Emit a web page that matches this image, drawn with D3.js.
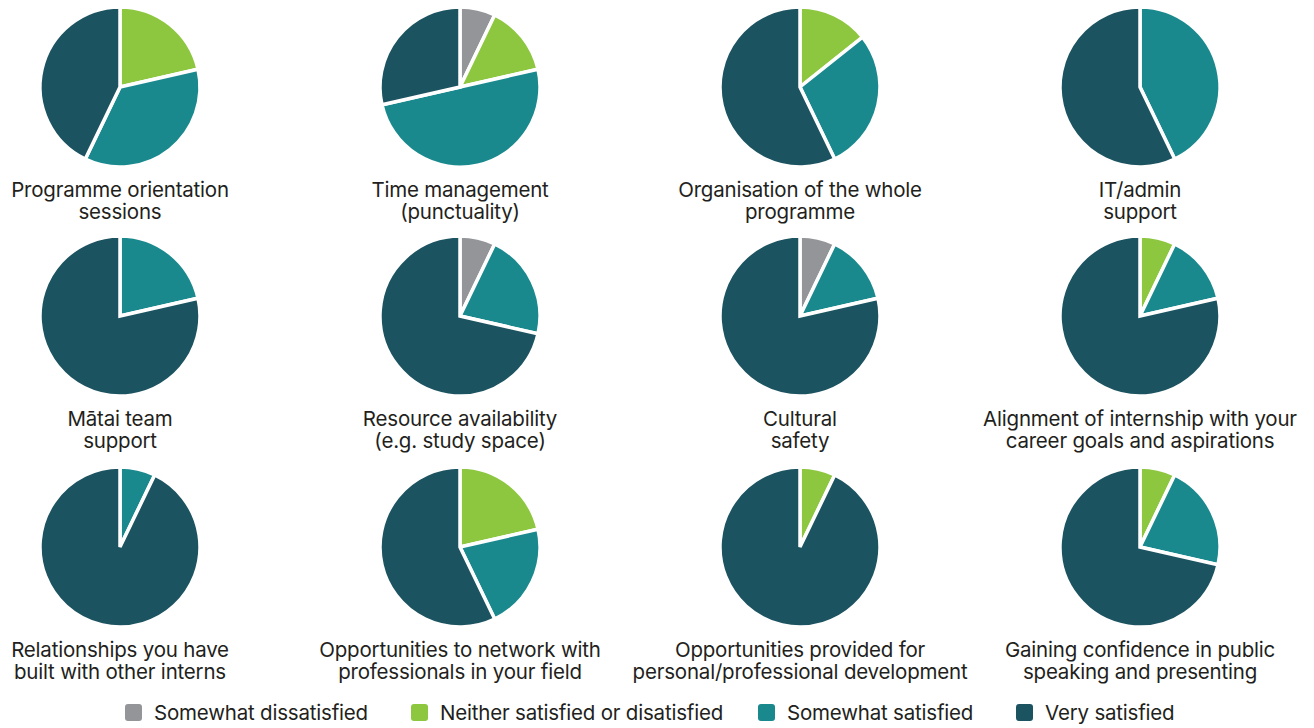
<!DOCTYPE html>
<html>
<head>
<meta charset="utf-8">
<script src="https://cdn.jsdelivr.net/npm/d3@7/dist/d3.min.js"></script>
<style>
  html, body { margin: 0; padding: 0; background: #ffffff; }
  svg { display: block; }
</style>
</head>
<body>
<svg id="chart" width="1314" height="728"></svg>
<script>
// Response categories (legend order = slice order, clockwise from 12 o'clock)
const categories = [
  "Somewhat dissatisfied",
  "Neither satisfied or disatisfied",
  "Somewhat satisfied",
  "Very satisfied"
];
const colors = ["#939598", "#8dc63f", "#1a898e", "#1c5360"];

// Survey questions, each label split over two lines
const questions = [
  ["Programme orientation", "sessions"],
  ["Time management", "(punctuality)"],
  ["Organisation of the whole", "programme"],
  ["IT/admin", "support"],
  ["Mātai team", "support"],
  ["Resource availability", "(e.g. study space)"],
  ["Cultural", "safety"],
  ["Alignment of internship with your", "career goals and aspirations"],
  ["Relationships you have", "built with other interns"],
  ["Opportunities to network with", "professionals in your field"],
  ["Opportunities provided for", "personal/professional development"],
  ["Gaining confidence in public", "speaking and presenting"]
];

// Number of respondents per category for each question
const somewhatDissatisfied = [0, 1, 0, 0, 0, 1, 1, 0, 0, 0, 0, 0];
const neitherSatisfied     = [3, 2, 2, 0, 0, 0, 0, 1, 0, 3, 1, 1];
const somewhatSatisfied    = [5, 7, 4, 6, 3, 3, 2, 2, 1, 3, 0, 3];
const verySatisfied        = [6, 4, 8, 8, 11, 10, 11, 11, 13, 8, 13, 10];

const series = [somewhatDissatisfied, neitherSatisfied, somewhatSatisfied, verySatisfied];

const svg = d3.select("#chart");
const fontFamily = "Inter, 'Noto Sans', sans-serif";
const textColor = "#231f20";

// Grid layout
const colX = d3.scalePoint().domain(d3.range(4)).range([120, 1140]);
const rowY = d3.scaleOrdinal().domain(d3.range(3)).range([87, 316, 547]);
const radius = 80;

const pie = d3.pie().sort(null).value(d => d.value);
const arc = d3.arc().innerRadius(0).outerRadius(radius);

questions.forEach((q, i) => {
  const col = i % 4, row = Math.floor(i / 4);
  const cx = colX(col), cy = rowY(row);
  const data = categories.map((c, k) => ({ cat: c, value: series[k][i], k }));

  const g = svg.append("g").attr("transform", `translate(${cx},${cy})`);
  g.selectAll("path")
    .data(pie(data).filter(d => d.data.value > 0))
    .join("path")
    .attr("d", arc)
    .attr("fill", d => colors[d.data.k])
    .attr("stroke", "#ffffff")
    .attr("stroke-width", 3.5)
    .attr("stroke-linejoin", "miter");

  const label = svg.append("text")
    .attr("x", cx)
    .attr("y", cy + 110)
    .attr("text-anchor", "middle")
    .attr("font-family", fontFamily)
    .attr("font-size", 20.5)
    .attr("letter-spacing", -0.2)
    .attr("fill", textColor);
  q.forEach((line, j) => {
    label.append("tspan")
      .attr("x", cx)
      .attr("dy", j === 0 ? 0 : 22)
      .text(line);
  });
});

// Legend
const legendX = [125, 411, 758, 1016];
const legend = svg.append("g").attr("transform", "translate(0,704)");
categories.forEach((c, k) => {
  const item = legend.append("g").attr("transform", `translate(${legendX[k]},0)`);
  item.append("rect")
    .attr("width", 17).attr("height", 17)
    .attr("rx", 3).attr("ry", 3)
    .attr("fill", colors[k]);
  item.append("text")
    .attr("x", 29).attr("y", 16)
    .attr("font-family", fontFamily)
    .attr("font-size", 20.5)
    .attr("letter-spacing", -0.2)
    .attr("fill", textColor)
    .text(c);
});
</script>
</body>
</html>
